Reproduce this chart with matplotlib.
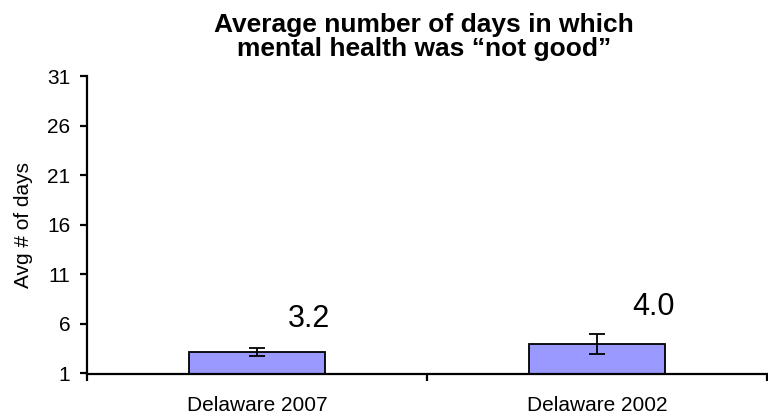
import matplotlib
matplotlib.use("Agg")
import matplotlib.pyplot as plt

categories = ["Delaware 2007", "Delaware 2002"]
values = [3.2, 4.0]
errors = [0.42, 1.0]
label_texts = ["3.2", "4.0"]
yticks = [1, 6, 11, 16, 21, 26, 31]

plt.rcParams['font.family'] = ['Liberation Sans', 'DejaVu Sans']

fig = plt.figure(figsize=(7.68, 4.18), dpi=100)
ax = fig.add_axes([87/768, 1-373.5/418, 680/768, 297.5/418])

x = list(range(len(categories)))
ax.bar(x, values, width=0.40, color='#9999FF', edgecolor='black', linewidth=1.3, zorder=2)
ax.errorbar(x, values, yerr=errors, fmt='none', ecolor='black', elinewidth=1.3,
            capsize=5.5, capthick=1.3, zorder=3)

for xi, v, t, dy, dx in zip(x, values, label_texts, [3.25, 3.67], [0.154, 0.166]):
    ax.text(xi + dx, v + dy, t, ha='center', va='center', fontsize=22)

ax.set_xlim(-0.5, len(categories) - 0.5)
ax.set_ylim(1, 31)
ax.set_yticks(yticks)
ax.set_yticklabels([str(t) for t in yticks], fontsize=15)
ax.set_xticks([i - 0.5 for i in range(len(categories) + 1)])
ax.set_xticklabels([])
ax.set_xticks(x, minor=True)
ax.set_xticklabels(categories, minor=True, fontsize=15)
ax.tick_params(axis='x', which='minor', length=0, pad=16)
ax.tick_params(axis='x', which='major', length=5, width=1.6, direction='out')
ax.tick_params(axis='y', length=5, width=1.6, direction='out', pad=7)
for s in ['top', 'right']:
    ax.spines[s].set_visible(False)
for s in ['left', 'bottom']:
    ax.spines[s].set_linewidth(1.6)
ax.set_ylabel("Avg # of days", fontsize=15, labelpad=10)

fig.text(424/768, 1 - 37/418, "Average number of days in which\nmental health was \u201cnot good\u201d",
         ha='center', va='center', fontsize=19, fontweight='bold', linespacing=1.0)

fig.savefig("out.png", dpi=100)
